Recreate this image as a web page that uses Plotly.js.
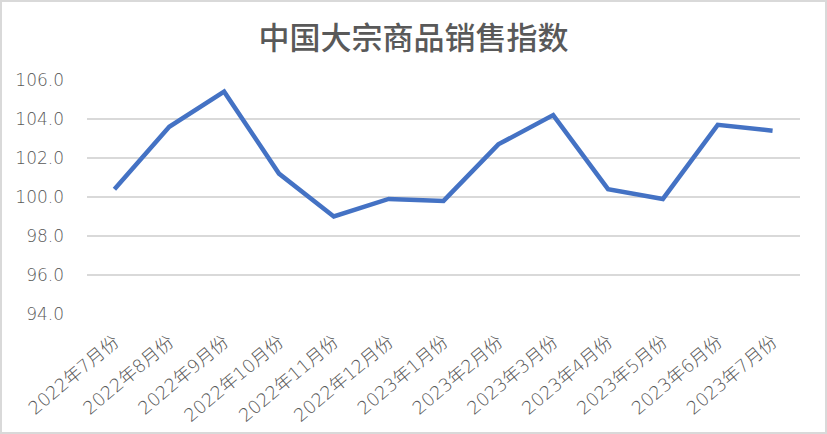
<!DOCTYPE html>
<html>
<head>
<meta charset="utf-8">
<script src="https://cdn.plot.ly/plotly-3.0.1.min.js"></script>
<style>
html,body{margin:0;padding:0;background:#fff;}
#wrap{position:relative;width:827px;height:434px;}
#chart{width:827px;height:434px;}
#frame{position:absolute;left:0;top:0;width:823px;height:430px;border:2px solid #d9d9d9;pointer-events:none;}
</style>
</head>
<body>
<div id="wrap"><div id="chart"></div><div id="frame"></div></div>
<script>
const months = ["2022年7月份","2022年8月份","2022年9月份","2022年10月份","2022年11月份","2022年12月份","2023年1月份","2023年2月份","2023年3月份","2023年4月份","2023年5月份","2023年6月份","2023年7月份"];
const salesIndex = [100.4, 103.6, 105.4, 101.2, 99.0, 99.9, 99.8, 102.7, 104.2, 100.4, 99.9, 103.7, 103.4];
const yTicks = [94, 96, 98, 100, 102, 104, 106];
const chartTitle = "中国大宗商品销售指数";

const fam = "DejaVu Sans, Noto Sans CJK SC, sans-serif";
Plotly.newPlot("chart", [{
  x: months,
  y: salesIndex,
  type: "scatter",
  mode: "lines",
  line: {color: "#4472C4", width: 4.5},
  hoverinfo: "x+y"
}], {
  width: 827, height: 434,
  margin: {l: 87, r: 27, t: 80, b: 120},
  paper_bgcolor: "#fff", plot_bgcolor: "#fff",
  showlegend: false,
  title: {text: chartTitle, x: 0.5, xanchor: "center", y: 0.913, yanchor: "middle",
          font: {family: "Noto Sans CJK SC, sans-serif", size: 31, color: "#595959", weight: 500}},
  xaxis: {
    type: "category",
    range: [-0.5, 12.5],
    tickangle: -40,
    showgrid: false, zeroline: false, showline: false,
    ticks: "",
    ticklabelstandoff: 13,
    tickfont: {family: fam, size: 18, color: "#595959", weight: 200}
  },
  yaxis: {
    range: [94, 106],
    tickvals: yTicks,
    ticktext: yTicks.map(v => v.toFixed(1)),
    showgrid: true, gridcolor: "#d9d9d9", gridwidth: 1.5,
    zeroline: false, showline: false, ticks: "",
    ticklabelstandoff: 22,
    tickfont: {family: fam, size: 17, color: "#595959", weight: 200}
  }
}, {displayModeBar: false, staticPlot: true});
</script>
</body>
</html>
